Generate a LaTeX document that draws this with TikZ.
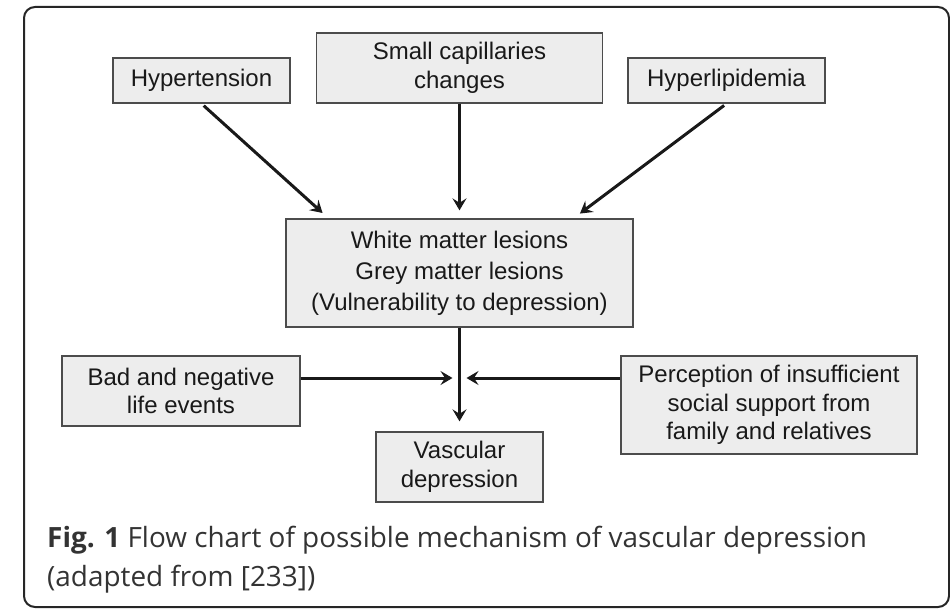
\documentclass[tikz,border=0pt]{standalone}
\usepackage{fontspec}
\setmainfont{Liberation Sans}
\newfontfamily\capfont{Open Sans}
\usetikzlibrary{arrows.meta}

\begin{document}
\begin{tikzpicture}[x=1pt, y=-1pt,
    box/.style={draw=black!70, fill=black!7, line width=1.3pt, align=center,
        inner sep=0pt, text=black!90, font=\fontsize{24}{28.5}\selectfont},
    arr/.style={line width=3pt, black!90,
        -{Stealth[length=12pt, width=14pt, inset=4.5pt]}}]
    \useasboundingbox (0,0) rectangle (950,610);
    \draw[line width=2pt, rounded corners=11pt, black!85] (24,7) rectangle (949,607);

    % causes
    \node[box, minimum width=177pt, minimum height=45pt] (hyper) at (201.5,80.5) {Hypertension};
    \node[box, minimum width=286pt, minimum height=70pt] (capil) at (459.5,68) {Small capillaries\\changes};
    \node[box, minimum width=197pt, minimum height=45pt] (lipid) at (726.5,80.5) {Hyperlipidemia};

    \node[box, minimum width=347pt, minimum height=108pt, font=\fontsize{24}{31}\selectfont] (lesion) at (459.5,273)
        {White matter lesions\\Grey matter lesions\\(Vulnerability to depression)};

    \node[box, minimum width=238pt, minimum height=70pt] (events) at (181,391) {Bad and negative\\life events};
    \node[box, minimum width=296pt, minimum height=98pt] (support) at (769,405)
        {Perception of insufficient\\social support from\\family and relatives};
    \node[box, minimum width=167pt, minimum height=70pt] (vascdep) at (459.5,467) {Vascular\\depression};

    \coordinate (meet) at (459.5,378);

    \draw[arr, shorten <=3pt, shorten >=8pt] (hyper.south) -- ([xshift=-131pt]lesion.north);
    \draw[arr, shorten >=8pt] (capil.south) -- (lesion.north);
    \draw[arr, shorten <=3pt, shorten >=8pt] (lipid.south) -- ([xshift=114pt]lesion.north);
    \draw[arr, shorten >=10pt] (lesion.south) -- (vascdep.north);
    \draw[arr] (events.east |- meet) -- ([xshift=-7pt]meet);
    \draw[arr] (support.west |- meet) -- ([xshift=7pt]meet);

    % caption
    \node[anchor=north west, align=left, inner sep=0pt, text=black!80,
        font=\capfont\fontsize{27.9}{39}\selectfont] (caption) at (47,526)
        {\textbf{Fig. 1} Flow chart of possible mechanism of vascular depression\\(adapted from [233])};
\end{tikzpicture}
\end{document}
